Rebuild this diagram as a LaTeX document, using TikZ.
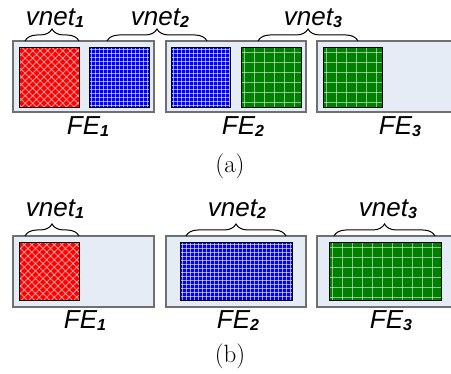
\documentclass[tikz,border=0pt]{standalone}
\usepackage{fontspec}
\newfontfamily\arialfont{Liberation Sans}
\usetikzlibrary{decorations.pathreplacing}
\definecolor{boxfill}{HTML}{E6ECF6}
\definecolor{boxgray}{HTML}{707070}
\definecolor{gfill}{HTML}{008000}
\newcommand\sbs[1]{\raisebox{-1.5pt}{\fontsize{16}{16}\selectfont\bfseries\itshape #1}}
\newcommand\redsq[4]{%
  \fill[red] (#1,#2) rectangle (#3,#4);
  \begin{scope}
    \clip (#1,#2) rectangle (#3,#4);
    \foreach \k in {0,...,22} {
      \draw[diagline] ({#1-80+7.5*\k},#2) -- ++(80,80);
      \draw[diagline] ({#1-80+7.5*\k},#4) -- ++(80,-80);
    }
  \end{scope}
  \draw[sqborder] (#1,#2) rectangle (#3,#4);}
\newcommand\bluesq[4]{%
  \fill[blue] (#1,#2) rectangle (#3,#4);
  \begin{scope}
    \clip (#1,#2) rectangle (#3,#4);
    \foreach \k in {0,...,30} {
      \draw[fineline] ({#1+2.5+4*\k},#2) -- ++(0,80);
      \draw[fineline] (#1,{#2+2.5+4*\k}) -- ++(130,0);
    }
  \end{scope}
  \draw[sqborder] (#1,#2) rectangle (#3,#4);}
\newcommand\greensq[4]{%
  \fill[gfill] (#1,#2) rectangle (#3,#4);
  \begin{scope}
    \clip (#1,#2) rectangle (#3,#4);
    \foreach \k in {0,...,12} {
      \draw[coarseline] ({#1+3.5+10*\k},#2) -- ++(0,80);
      \draw[coarseline] (#1,{#2+5.5+10*\k}) -- ++(130,0);
    }
  \end{scope}
  \draw[sqborder] (#1,#2) rectangle (#3,#4);}
\tikzset{
  febox/.style={draw=boxgray, fill=boxfill, line width=1.3pt},
  sqborder/.style={draw=black, line width=0.9pt},
  diagline/.style={draw=white, opacity=0.55, line width=0.9pt},
  fineline/.style={draw=white, opacity=0.6, line width=1pt},
  coarseline/.style={draw=white, opacity=0.55, line width=1.6pt},
  vbrace/.style={decorate, decoration={brace, amplitude=12pt}, line width=1pt},
  lbl/.style={font=\arialfont\itshape\fontsize{26}{26}\selectfont, anchor=base, inner sep=0pt},
  captext/.style={font=\fontsize{25}{25}\selectfont, inner sep=0pt}
}
\begin{document}
\begin{tikzpicture}[x=1pt,y=-1pt]
\useasboundingbox (0,0) rectangle (451,374);
% ---------- (a) ----------
\draw[febox] (13,41) rectangle (154,112);
\draw[febox] (166,41) rectangle (306,112);
\draw[febox] (317,41) rectangle (451.5,112);
\redsq{19}{47}{79}{107}
\bluesq{89}{47}{149}{107}
\bluesq{171}{47}{230}{107}
\greensq{241}{47}{301}{107}
\greensq{323}{47}{382}{107}
\coordinate (a1l) at (25,41); \coordinate (a1r) at (79,41);
\coordinate (a2l) at (107,41); \coordinate (a2r) at (207,41);
\coordinate (a3l) at (258,41); \coordinate (a3r) at (358,41);
\draw[vbrace] (a1l) -- (a1r);
\draw[vbrace] (a2l) -- (a2r);
\draw[vbrace] (a3l) -- (a3r);
\node[lbl] (av1) at (55,26) {vnet\sbs{1}};
\node[lbl] (av2) at (160,26) {vnet\sbs{2}};
\node[lbl] (av3) at (313,26) {vnet\sbs{3}};
\node[lbl] (afe1) at (88,135) {FE\sbs{1}};
\node[lbl] (afe2) at (243,135) {FE\sbs{2}};
\node[lbl] (afe3) at (400,135) {FE\sbs{3}};
\node[captext] (capa) at (230,166) {(a)};
% ---------- (b) ----------
\draw[febox] (13,236) rectangle (154,307);
\draw[febox] (166,236) rectangle (306,307);
\draw[febox] (317,236) rectangle (451.5,307);
\redsq{19}{242}{79}{300}
\bluesq{180}{242}{292}{300}
\greensq{329}{242}{441}{300}
\coordinate (b1l) at (25,236); \coordinate (b1r) at (79,236);
\coordinate (b2l) at (186,236); \coordinate (b2r) at (286,236);
\coordinate (b3l) at (334,236); \coordinate (b3r) at (435,236);
\draw[vbrace] (b1l) -- (b1r);
\draw[vbrace] (b2l) -- (b2r);
\draw[vbrace] (b3l) -- (b3r);
\node[lbl] (bv1) at (55,217) {vnet\sbs{1}};
\node[lbl] (bv2) at (237,217) {vnet\sbs{2}};
\node[lbl] (bv3) at (388,217) {vnet\sbs{3}};
\node[lbl] (bfe1) at (85,329) {FE\sbs{1}};
\node[lbl] (bfe2) at (238,329) {FE\sbs{2}};
\node[lbl] (bfe3) at (391,329) {FE\sbs{3}};
\node[captext] (capb) at (230,356) {(b)};
\end{tikzpicture}
\end{document}
